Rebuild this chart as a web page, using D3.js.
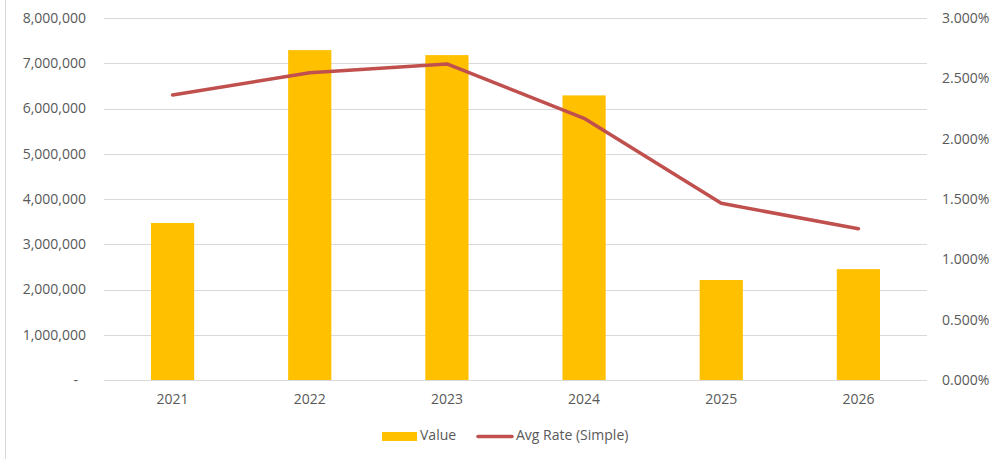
<!DOCTYPE html>
<html>
<head>
<meta charset="utf-8">
<script src="https://cdn.jsdelivr.net/npm/d3@7"></script>
<style>
  html, body { margin: 0; padding: 0; background: #fff; }
  svg { display: block; }
  text { font-family: "Open Sans", "Noto Sans", sans-serif; fill: #595959; }
</style>
</head>
<body>
<svg id="chart" width="992" height="459"></svg>
<script>
const years = ["2021", "2022", "2023", "2024", "2025", "2026"];
const values = [3470000, 7290000, 7180000, 6290000, 2210000, 2450000];
const avgRate = [0.02362, 0.02547, 0.02619, 0.02169, 0.01464, 0.01254];
const leftTicks = [0, 1000000, 2000000, 3000000, 4000000, 5000000, 6000000, 7000000, 8000000];
const rightTicks = [0, 0.005, 0.01, 0.015, 0.02, 0.025, 0.03];
const seriesNames = ["Value", "Avg Rate (Simple)"];

const W = 992, H = 459;
const plot = { left: 104, right: 927, top: 18, bottom: 380 };
const svg = d3.select("#chart");

// outer left border
svg.append("line").attr("x1", 5.5).attr("x2", 5.5).attr("y1", 0).attr("y2", H)
  .attr("stroke", "#d9d9d9").attr("stroke-width", 1);

const x = d3.scaleBand().domain(years).range([plot.left, plot.right]).paddingInner(0.685).paddingOuter(0.3425);
const xc = d3.scaleBand().domain(years).range([plot.left, plot.right]);
const yL = d3.scaleLinear().domain([0, 8000000]).range([plot.bottom, plot.top]);
const yR = d3.scaleLinear().domain([0, 0.03]).range([plot.bottom, plot.top]);

// gridlines
svg.append("g").selectAll("line").data(leftTicks).join("line")
  .attr("x1", plot.left).attr("x2", plot.right)
  .attr("y1", d => Math.round(yL(d)) + 0.5).attr("y2", d => Math.round(yL(d)) + 0.5)
  .attr("stroke", "#d9d9d9").attr("stroke-width", 1);

// left axis
const fmt = d3.format(",");
const gL = svg.append("g").attr("transform", `translate(${plot.left - 18},0)`)
  .call(d3.axisLeft(yL).tickValues(leftTicks).tickSize(0).tickPadding(0)
    .tickFormat(d => d === 0 ? "-" : fmt(d)));
gL.select(".domain").remove();
gL.selectAll("text").style("font-size", "14px").attr("fill", "#595959")
  .attr("dx", d => d === 0 ? -8 : 0);

// right axis
const gR = svg.append("g").attr("transform", `translate(${plot.right + 15},0)`)
  .call(d3.axisRight(yR).tickValues(rightTicks).tickSize(0).tickPadding(0)
    .tickFormat(d3.format(".3%")));
gR.select(".domain").remove();
gR.selectAll("text").style("font-size", "14px").attr("fill", "#595959");

// bars
svg.append("g").selectAll("rect").data(years).join("rect")
  .attr("x", d => x(d)).attr("width", x.bandwidth())
  .attr("y", (d, i) => yL(values[i])).attr("height", (d, i) => yL(0) - yL(values[i]))
  .attr("fill", "#FFC000");

// x axis
const gX = svg.append("g").attr("transform", `translate(0,${plot.bottom})`)
  .call(d3.axisBottom(xc).tickSize(0).tickPadding(14));
gX.select(".domain").remove();
gX.selectAll("text").style("font-size", "14px").attr("fill", "#595959");

// line
const line = d3.line().x((d, i) => xc(years[i]) + xc.bandwidth() / 2).y(d => yR(d));
svg.append("path").datum(avgRate).attr("d", line)
  .attr("fill", "none").attr("stroke", "#C0504D").attr("stroke-width", 3.5)
  .attr("stroke-linejoin", "round").attr("stroke-linecap", "round");

// legend
const lg = svg.append("g");
lg.append("rect").attr("x", 382).attr("y", 432).attr("width", 35).attr("height", 9).attr("fill", "#FFC000");
lg.append("text").attr("x", 420).attr("y", 436.5).attr("dominant-baseline", "middle")
  .style("font-size", "14px").text(seriesNames[0]);
lg.append("line").attr("x1", 478).attr("x2", 512).attr("y1", 436.5).attr("y2", 436.5)
  .attr("stroke", "#C0504D").attr("stroke-width", 3.5).attr("stroke-linecap", "round");
lg.append("text").attr("x", 516).attr("y", 436.5).attr("dominant-baseline", "middle")
  .style("font-size", "14px").text(seriesNames[1]);
</script>
</body>
</html>
